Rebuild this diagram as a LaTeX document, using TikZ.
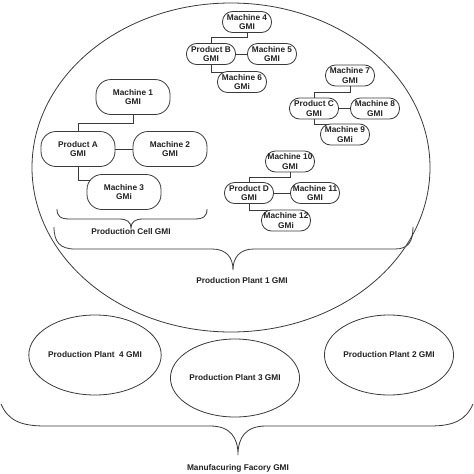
\documentclass[tikz,border=0pt]{standalone}
\usepackage{fontspec}
\setmainfont{Liberation Sans}
\usetikzlibrary{shapes.geometric,calc}
\definecolor{ln}{HTML}{3A3A3A}
\definecolor{tx}{HTML}{222222}
\tikzset{
  lbl/.style={font=\fontsize{8.3}{9.5}\selectfont\bfseries, text=tx},
  bignode/.style={lbl, draw=ln, line width=0.8pt, rectangle, rounded corners=15pt, align=center,
     inner sep=0pt, minimum width=74pt, minimum height=35pt},
  smallnode/.style={lbl, draw=ln, line width=0.8pt, rectangle, rounded corners=10pt, align=center,
     inner sep=0pt, minimum width=49pt, minimum height=21pt},
  conn/.style={draw=ln, line width=0.8pt, rounded corners=0pt},
  oval/.style={lbl, draw=ln, line width=0.8pt, ellipse, inner sep=0pt},
  brace/.style={draw=ln, line width=0.8pt}
}
\begin{document}
\begin{tikzpicture}[x=1pt,y=-1pt]
\useasboundingbox (0,0) rectangle (474,474);
\fill[white] (0,0) rectangle (474,474);
% big ellipse
\node[oval, minimum width=398pt, minimum height=329pt] (P1) at (231,167.5) {};
% cluster A
\node[bignode] (M1) at (133,97) {Machine 1\\GMI};
\node[bignode] (PA) at (78,149) {Product A\\GMI};
\node[bignode] (M2) at (170,149) {Machine 2\\GMI};
\node[bignode] (M3) at (124,192) {Machine 3\\GMi};
\draw[conn] (M1.south) -- ++(0,8) -| (PA.north);
\draw[conn] (PA.east) -- (M2.west);
\draw[conn] (PA.south) |- ($(M3.center)+(-33.6,-12)$);
% cluster B
\node[smallnode] (M4) at (247,22) {Machine 4\\GMI};
\node[smallnode] (PB) at (211,54) {Product B\\GMI};
\node[smallnode] (M5) at (272,54) {Machine 5\\GMI};
\node[smallnode] (M6) at (242,82) {Machine 6\\GMi};
\draw[conn] (M4.south) -- ++(0,4.5) -| (PB.north);
\draw[conn] (PB.east) -- (M5.west);
\draw[conn] (PB.south) |- ($(M6.center)+(-17.6,-10)$);
% cluster C
\node[smallnode] (M7) at (350,75.5) {Machine 7\\GMI};
\node[smallnode] (PC) at (314,108.5) {Product C\\GMI};
\node[smallnode] (M8) at (375,108.5) {Machine 8\\GMI};
\node[smallnode] (M9) at (345,134.5) {Machine 9\\GMi};
\draw[conn] (M7.south) -- ++(0,5.5) -| (PC.north);
\draw[conn] (PC.east) -- (M8.west);
\draw[conn] (PC.south) |- ($(M9.center)+(-17.6,-10)$);
% cluster D
\node[smallnode] (M10) at (290,161.5) {Machine 10\\GMI};
\node[smallnode] (PD) at (249,193) {Product D\\GMI};
\node[smallnode] (M11) at (315,193) {Machine 11\\GMI};
\node[smallnode] (M12) at (286,220.5) {Machine 12\\GMi};
\draw[conn] (M10.south) -- ++(0,5) -| (PD.north);
\draw[conn] (PD.east) -- (M11.west);
\draw[conn] (PD.south) |- ($(M12.center)+(-17.6,-10)$);
% braces
\draw[brace] (57,209) .. controls (57,216) and (60,219) .. (70,219) -- (119,219)
  .. controls (127,219) and (131,222) .. (131,228)
  .. controls (131,222) and (135,219) .. (143,219) -- (194,219)
  .. controls (204,219) and (207,216) .. (207,209);
\node[lbl] (cell) at (131,232) {Production Cell GMI};
\draw[brace] (54,227) .. controls (54,242) and (60,249) .. (75,249) -- (212,249)
  .. controls (226,249) and (233,257) .. (233,270)
  .. controls (233,257) and (240,249) .. (254,249) -- (395,249)
  .. controls (408,249) and (413,242) .. (413,227);
\node[lbl] (plant1) at (242,281) {Production Plant 1 GMI};
% bottom plants
\node[oval, minimum width=128pt, minimum height=80pt] (P4) at (95,355) {Production Plant \ 4 GMI};
\node[oval, minimum width=128pt, minimum height=78pt] (P3) at (235,378) {Production Plant 3 GMI};
\node[oval, minimum width=128pt, minimum height=80pt] (P2) at (389,355) {Production Plant 2 GMI};
\draw[brace] (1,404) .. controls (8,420) and (20,426) .. (45,426) -- (210,426)
  .. controls (230,426) and (238,437) .. (238,455)
  .. controls (238,437) and (246,426) .. (266,426) -- (430,426)
  .. controls (454,426) and (466,420) .. (473,404);
\node[lbl] (mfg) at (238,468) {Manufacuring Facory GMI};
\end{tikzpicture}
\end{document}
